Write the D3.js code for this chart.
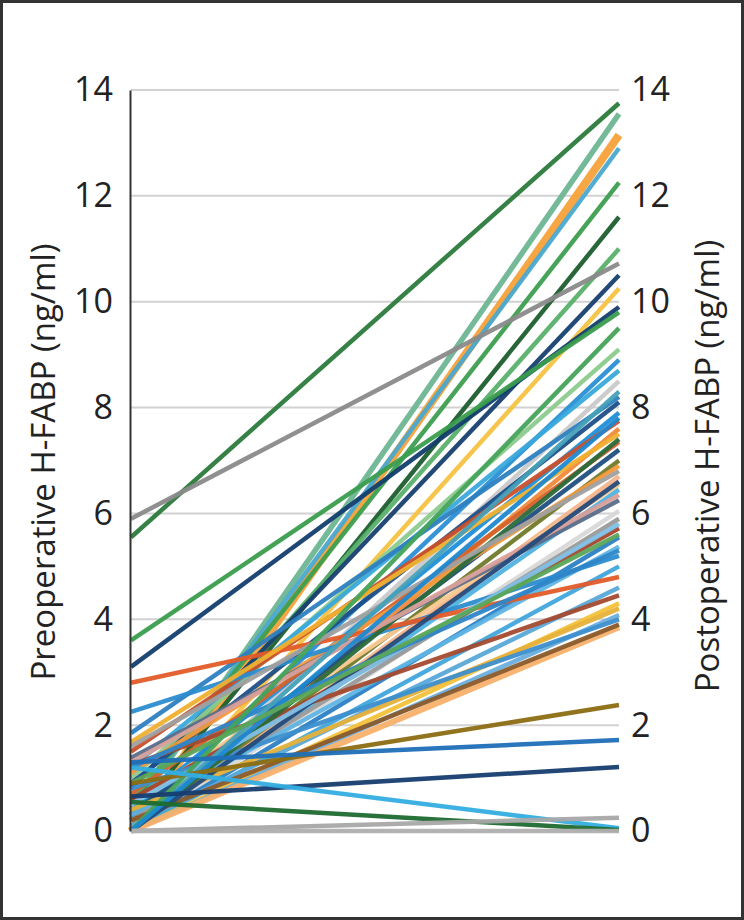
<!DOCTYPE html>
<html>
<head>
<meta charset="utf-8">
<script src="https://cdn.jsdelivr.net/npm/d3@7"></script>
<style>
  html, body { margin: 0; padding: 0; background: #fff; }
  svg { display: block; }
</style>
</head>
<body>
<svg id="chart" width="744" height="920"></svg>
<script>
// ---- data ----
const tickValues = [0, 2, 4, 6, 8, 10, 12, 14];
const preValues = [
  5.55, 0.3, 0.0, 0.4, 0.5, 0.2, 0.6, 5.9, 0.8, 0.0, 3.1, 3.6, 1.0, 0.2,
  1.2, 0.0, 1.85, 0.9, 0.4, 1.5, 0.0, 0.7, 0.3, 0.0, 1.1, 0.0, 0.5, 0.0,
  1.38, 0.0, 0.2, 0.6, 0.0, 0.3, 2.25, 0.0, 2.8, 0.1, 1.25, 0.0, 0.4, 0.0,
  0.8, 0.0, 0.2, 1.68, 0.0, 1.6, 1.3, 0.0, 0.5, 1.2, 0.0, 0.0, 0.0, 0.9,
  0.9, 1.3, 0.65, 1.2, 0.55, 0.0, 0.0
];
const postValues = [
  13.75, 13.55, 13.15, 12.9, 12.25, 11.6, 11.0, 10.72, 10.5, 10.25, 9.9, 9.8, 9.1, 8.9,
  8.7, 8.5, 8.2, 8.1, 7.9, 7.75, 7.6, 7.35, 7.2, 7.0, 6.9, 6.7, 6.55, 6.45,
  6.25, 6.05, 5.9, 5.72, 5.55, 5.37, 5.2, 5.0, 4.8, 4.6, 4.45, 4.3, 4.2, 4.08,
  4.0, 3.85, 3.9, 7.5, 7.4, 6.8, 6.35, 6.6, 5.8, 5.3, 8.3, 9.5, 7.8, 5.6,
  2.38, 1.72, 1.21, 0.05, 0.02, 0.25, 0.0
];
const lineColors = [
  "#2b7a3b", "#6db592", "#f6a23a", "#4aa8d0", "#3c9e4f", "#1c5e2e", "#59b06a", "#8a8a8a", "#173f6f", "#f5c342", "#123d6e", "#3a9d4d", "#8ccb8e", "#2a8fd4",
  "#39a9dc", "#c9c9c9", "#2d7fc0", "#1d4e89", "#1f8fd8", "#c9502a", "#f08a3a", "#d4622c", "#214f80", "#6f7a2a", "#f39a3c", "#f6b48a", "#f8c890", "#4fb2e0",
  "#5a6e8a", "#d8d8d8", "#9a9a9a", "#a6452a", "#2c7fc4", "#5fb4e4", "#2b8ccf", "#42a6dc", "#e35b28", "#5aa8d8", "#a34a2f", "#f3c13a", "#e6b13a", "#6aaedc",
  "#3d8fcd", "#f7b06a", "#8a5a2a", "#f0b030", "#2a6b3a", "#a0a0a0", "#d9a09a", "#244a7a", "#7fc0e8", "#2e86c8", "#45a0b8", "#44a35a", "#1e88d0", "#5aa65a",
  "#8c6d12", "#1f6fb8", "#163d70", "#33aee0", "#1e6a30", "#a8a8a8", "#b0b0b0"
];
const lineWidths = [
  4.5, 5.5, 8, 4.5, 4.5, 4.5, 4.5, 4.5, 4.5, 4.5, 4.5, 4.5, 4.5, 4.5,
  4.5, 4.5, 4.5, 4.5, 4.5, 4.5, 4.5, 4.5, 4.5, 4.5, 4.5, 4.5, 4.5, 4.5,
  4.5, 4.5, 4.5, 4.5, 4.5, 4.5, 4.5, 4.5, 4.5, 4.5, 4.5, 4.5, 4.5, 4.5,
  4.5, 6, 4.5, 4.5, 4.5, 4.5, 4.5, 4.5, 4.5, 4.5, 4.5, 4.5, 4.5, 4.5,
  4.5, 4.5, 4.5, 4.5, 4.5, 4.5, 4.5
];
const leftTitle = "Preoperative H-FABP (ng/ml)";
const rightTitle = "Postoperative H-FABP (ng/ml)";

// ---- drawing ----
const svg = d3.select("#chart");
const W = 744, H = 920;

svg.append("rect").attr("x", 1.5).attr("y", 1.5).attr("width", W - 3).attr("height", H - 3)
  .attr("fill", "#fff").attr("stroke", "#333").attr("stroke-width", 3);

const x = d3.scalePoint().domain(["pre", "post"]).range([131, 619]);
const y = d3.scaleLinear().domain([0, 14]).range([831, 90]);

// gridlines
svg.append("g").selectAll("line").data(tickValues).join("line")
  .attr("x1", x("pre")).attr("x2", x("post"))
  .attr("y1", d => y(d)).attr("y2", d => y(d))
  .attr("stroke", "#d2d2d2").attr("stroke-width", 2);

// lines
const data = preValues.map((p, i) => ({ pre: p, post: postValues[i], c: lineColors[i], w: lineWidths[i] }));
const lineGen = d3.line().x(d => x(d[0])).y(d => y(d[1]));
svg.append("g").selectAll("path").data(data).join("path")
  .attr("d", d => lineGen([["pre", d.pre], ["post", d.post]]))
  .attr("fill", "none")
  .attr("stroke", d => d.c)
  .attr("stroke-width", d => d.w)
  .attr("stroke-opacity", 0.95);

// left axis
const leftAxis = svg.append("g").attr("transform", `translate(${x("pre") - 1},0)`)
  .call(d3.axisLeft(y).tickValues(tickValues).tickSize(0).tickPadding(17));
leftAxis.select(".domain").attr("stroke", "#333").attr("stroke-width", 2);
leftAxis.selectAll("text").attr("font-family", "'Open Sans', sans-serif").attr("font-size", 34).attr("fill", "#222");

// right axis
const rightAxis = svg.append("g").attr("transform", `translate(${x("post")},0)`)
  .call(d3.axisRight(y).tickValues(tickValues).tickSize(0).tickPadding(12));
rightAxis.select(".domain").remove();
rightAxis.selectAll("text").attr("font-family", "'Open Sans', sans-serif").attr("font-size", 34).attr("fill", "#222");

// titles
svg.append("text").attr("transform", "translate(55,462) rotate(-90)")
  .attr("text-anchor", "middle").attr("font-family", "'Open Sans', sans-serif")
  .attr("font-size", 33).attr("fill", "#222").text(leftTitle);
svg.append("text").attr("transform", "translate(719,466) rotate(-90)")
  .attr("text-anchor", "middle").attr("font-family", "'Open Sans', sans-serif")
  .attr("font-size", 33).attr("fill", "#222").text(rightTitle);
</script>
</body>
</html>
